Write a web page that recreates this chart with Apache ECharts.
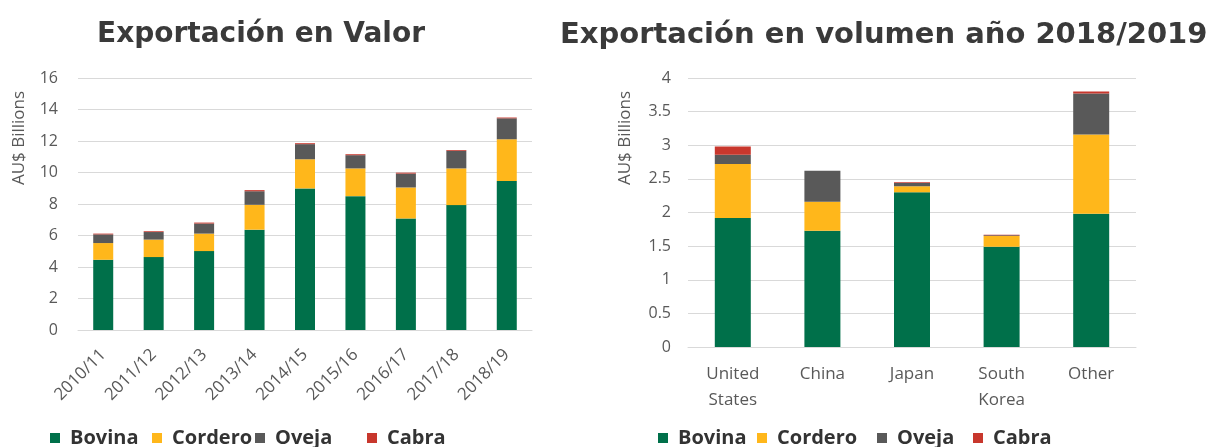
<!DOCTYPE html>
<html>
<head>
<meta charset="utf-8">
<script src="https://cdn.jsdelivr.net/npm/echarts@6/dist/echarts.min.js"></script>
<style>html,body{margin:0;padding:0;background:#fff}#c{width:1209px;height:447px}</style>
</head>
<body>
<div id="c"></div>
<script>
// ---- Data ----
const seriesNames = ['Bovina', 'Cordero', 'Oveja', 'Cabra'];
const yearCategories = ['2010/11','2011/12','2012/13','2013/14','2014/15','2015/16','2016/17','2017/18','2018/19'];
const valorBovina  = [4.46, 4.63, 5.01, 6.37, 8.99, 8.50, 7.08, 7.93, 9.46];
const valorCordero = [1.06, 1.11, 1.11, 1.58, 1.85, 1.76, 1.97, 2.33, 2.65];
const valorOveja   = [0.55, 0.48, 0.64, 0.86, 0.96, 0.84, 0.88, 1.12, 1.33];
const valorCabra   = [0.05, 0.05, 0.06, 0.07, 0.06, 0.06, 0.06, 0.05, 0.05];

const countryCategories = ['United\nStates', 'China', 'Japan', 'South\nKorea', 'Other'];
const volBovina  = [1.92, 1.73, 2.30, 1.49, 1.98];
const volCordero = [0.80, 0.43, 0.09, 0.16, 1.18];
const volOveja   = [0.14, 0.46, 0.05, 0.01, 0.61];
const volCabra   = [0.12, 0.00, 0.01, 0.01, 0.03];

const leftTicks = { min: 0, max: 16, interval: 2 };
const rightTicks = { min: 0, max: 4, interval: 0.5 };

// ---- Style ----
const colors = ['#00704A', '#FFB71B', '#595959', '#C8372D'];
const textGrey = '#595959';
const gridColor = '#D9D9D9';
const FONT = 'Open Sans';

const chart = echarts.init(document.getElementById('c'), null, { renderer: 'canvas' });

const valorData = [valorBovina, valorCordero, valorOveja, valorCabra];
const volData = [volBovina, volCordero, volOveja, volCabra];

const series = [];
seriesNames.forEach((n, i) => {
  series.push({
    name: n, type: 'bar', stack: 'valor', xAxisIndex: 0, yAxisIndex: 0,
    barWidth: 20, data: valorData[i], itemStyle: { color: colors[i] }
  });
});
seriesNames.forEach((n, i) => {
  series.push({
    name: n, type: 'bar', stack: 'vol', xAxisIndex: 1, yAxisIndex: 1,
    barWidth: 36, data: volData[i], itemStyle: { color: colors[i] }
  });
});

const legendLeftX = [50, 152, 255, 367];
const legendRightX = [658, 757, 877, 973];
const legends = [];
function addLegend(name, x) {
  legends.push({
    data: [name], left: x, top: 428, orient: 'horizontal', padding: 0,
    itemWidth: 10, itemHeight: 10, itemGap: 0, icon: 'rect',
    textStyle: { fontFamily: FONT, fontWeight: 'bold', fontSize: 20, color: '#333', padding: [0, 0, 0, 5] }
  });
}
seriesNames.forEach((n, i) => addLegend(n, legendLeftX[i]));
seriesNames.forEach((n, i) => addLegend(n, legendRightX[i]));

function yAxisCfg(t, gi) {
  return {
    type: 'value', gridIndex: gi, min: t.min, max: t.max, interval: t.interval,
    axisLine: { show: false }, axisTick: { show: false },
    splitLine: { lineStyle: { color: gridColor, width: 1 } },
    axisLabel: { color: textGrey, fontFamily: FONT, fontSize: 16, margin: gi === 0 ? 20 : 17 }
  };
}

chart.setOption({
  animation: false,
  title: [
    { text: 'Exportación en Valor', left: 92, top: 16,
      textStyle: { fontFamily: 'DejaVu Sans', fontWeight: 'bold', fontSize: 28, color: '#3A3A3A' } },
    { text: 'Exportación en volumen año 2018/2019', left: 555, top: 16,
      textStyle: { fontFamily: 'DejaVu Sans', fontWeight: 'bold', fontSize: 29, color: '#3A3A3A' } }
  ],
  legend: legends,
  grid: [
    { left: 78, top: 78, width: 454, height: 252 },
    { left: 688, top: 78, width: 448, height: 269 }
  ],
  xAxis: [
    { type: 'category', gridIndex: 0, data: yearCategories,
      axisLine: { lineStyle: { color: gridColor } }, axisTick: { show: false },
      axisLabel: { rotate: 45, color: textGrey, fontFamily: FONT, fontSize: 17, margin: 22, interval: 0 } },
    { type: 'category', gridIndex: 1, data: countryCategories,
      axisLine: { lineStyle: { color: gridColor } }, axisTick: { show: false },
      axisLabel: { color: textGrey, fontFamily: FONT, fontSize: 17, lineHeight: 26, margin: 14, interval: 0 } }
  ],
  yAxis: [yAxisCfg(leftTicks, 0), yAxisCfg(rightTicks, 1)],
  graphic: [
    { type: 'text', x: 19, y: 138, rotation: Math.PI / 2,
      style: { text: 'AU$ Billions', fill: textGrey, font: '17px "Open Sans"', textAlign: 'center', textVerticalAlign: 'middle' } },
    { type: 'text', x: 625, y: 138, rotation: Math.PI / 2,
      style: { text: 'AU$ Billions', fill: textGrey, font: '17px "Open Sans"', textAlign: 'center', textVerticalAlign: 'middle' } }
  ],
  series: series
});
</script>
</body>
</html>
